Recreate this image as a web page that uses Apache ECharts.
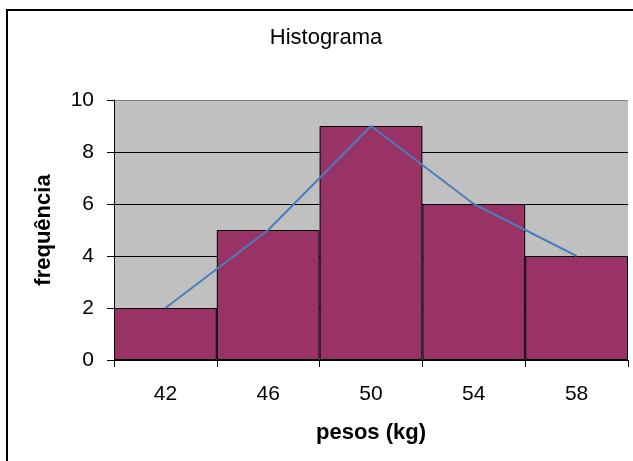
<!DOCTYPE html>
<html>
<head>
<meta charset="utf-8">
<script src="https://cdn.jsdelivr.net/npm/echarts@6/dist/echarts.min.js"></script>
<style>
html,body{margin:0;padding:0;background:#fff;}
#chart{width:633px;height:461px;}
</style>
</head>
<body>
<div id="chart"></div>
<script>
var categories = ['42', '46', '50', '54', '58'];
var frequencies = [2, 5, 9, 6, 4];
var yTicks = [0, 2, 4, 6, 8, 10];
var titleText = 'Histograma';
var xName = 'pesos (kg)';
var yName = 'frequência';

var FONT = '"Liberation Sans", Arial, sans-serif';
var chart = echarts.init(document.getElementById('chart'), null, {renderer: 'canvas'});
chart.setOption({
  animation: false,
  backgroundColor: '#ffffff',
  graphic: [
    {type: 'rect', shape: {x: 7, y: 10, width: 640, height: 480}, style: {fill: 'none', stroke: '#000', lineWidth: 2}, z: 100},
    {type: 'text', x: 326, y: 38, style: {text: titleText, font: '22px ' + FONT, fill: '#000', textAlign: 'center', textVerticalAlign: 'middle'}}
  ],
  grid: {left: 114, right: 5, top: 100, bottom: 101, show: true, backgroundColor: '#C0C0C0', borderWidth: 0},
  xAxis: {
    type: 'category',
    data: categories,
    boundaryGap: true,
    name: xName,
    nameLocation: 'middle',
    nameGap: 62,
    nameTextStyle: {fontFamily: FONT, fontSize: 22, fontWeight: 'bold', color: '#000'},
    axisLine: {show: true, lineStyle: {color: '#000', width: 1}},
    axisTick: {show: true, length: 7, lineStyle: {color: '#000'}},
    axisLabel: {fontFamily: FONT, fontSize: 21, color: '#000', margin: 24}
  },
  yAxis: {
    type: 'value',
    min: yTicks[0],
    max: yTicks[yTicks.length - 1],
    interval: 2,
    name: yName,
    nameLocation: 'middle',
    nameGap: 59,
    nameRotate: 90,
    nameTextStyle: {fontFamily: FONT, fontSize: 22, fontWeight: 'bold', color: '#000'},
    axisLine: {show: true, lineStyle: {color: '#000', width: 1}},
    axisTick: {show: true, length: 7, lineStyle: {color: '#000'}},
    axisLabel: {fontFamily: FONT, fontSize: 21, color: '#000', margin: 20},
    splitLine: {show: true, lineStyle: {color: ['#000', '#000', '#000', '#000', '#000', '#808080'], width: 1}}
  },
  series: [
    {
      type: 'bar',
      data: frequencies,
      barCategoryGap: '0%',
      itemStyle: {color: '#993366', borderColor: '#000', borderWidth: 1}
    },
    {
      type: 'line',
      data: frequencies,
      symbol: 'none',
      z: 5,
      lineStyle: {color: '#4A7EBB', width: 2}
    }
  ]
});
</script>
</body>
</html>
